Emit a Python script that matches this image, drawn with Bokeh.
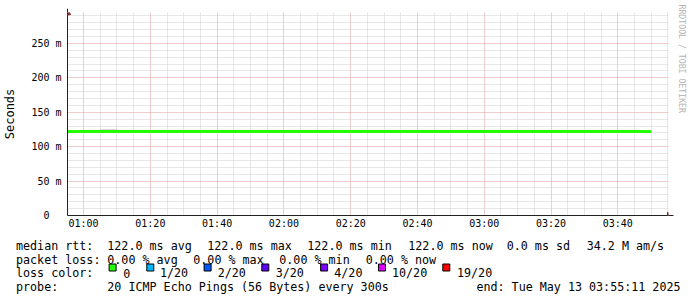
import pandas as pd
from bokeh.plotting import figure
from bokeh.layouts import column
from bokeh.models import (Range1d, FixedTicker, DatetimeTickFormatter, Arrow, NormalHead, Title)
from bokeh.core.properties import value
from bokeh.embed import file_html
from bokeh.resources import INLINE

# ---------------- data ----------------
DAY = "2025-05-13"
range_start = "00:55:11"
range_end = "03:55:11"

sample_times = ["00:55", "01:00", "01:05", "01:10", "01:15", "01:20", "01:25", "01:30", "01:35",
                "01:40", "01:45", "01:50", "01:55", "02:00", "02:05", "02:10", "02:15", "02:20",
                "02:25", "02:30", "02:35", "02:40", "02:45", "02:50", "02:55", "03:00", "03:05",
                "03:10", "03:15", "03:20", "03:25", "03:30", "03:35", "03:40", "03:45", "03:50"]
median_rtt_ms = [122.0, 122.0, 122.0, 122.0, 122.0, 122.0, 122.0, 122.0, 122.0,
                 122.0, 122.0, 122.0, 122.0, 122.0, 122.0, 122.0, 122.0, 122.0,
                 122.0, 122.0, 122.0, 122.0, 122.0, 122.0, 122.0, 122.0, 122.0,
                 122.0, 122.0, 122.0, 122.0, 122.0, 122.0, 122.0, 122.0, 122.0]
smoke_max_ms = [122.0, 122.0, 122.0, 124.5, 122.0, 122.0, 122.0, 122.0, 122.0,
                122.0, 122.0, 122.0, 122.0, 122.0, 122.0, 122.0, 122.0, 122.0,
                122.0, 122.0, 122.0, 122.0, 122.0, 122.0, 122.0, 122.0, 122.0,
                122.0, 122.0, 122.0, 122.0, 122.0, 122.0, 122.0, 122.0, 122.0]

x_tick_labels = ["01:00", "01:20", "01:40", "02:00", "02:20", "02:40", "03:00", "03:20", "03:40"]
y_tick_values = [0, 50, 100, 150, 200, 250]
y_tick_labels = ["0\u00a0\u00a0", "50 m", "100 m", "150 m", "200 m", "250 m"]
y_max = 295

rtt_stat_names = ["avg", "max", "min", "now"]
rtt_stat_values = [122.0, 122.0, 122.0, 122.0]
rtt_sd_ms = 0.0
am_per_s = "34.2 M"
loss_stat_names = ["avg", "max", "min", "now"]
loss_stat_values = [0.00, 0.00, 0.00, 0.00]
loss_labels = ["0", "1/20", "2/20", "3/20", "4/20", "10/20", "19/20"]
loss_colors = ["#26ff00", "#00b8ff", "#0059ff", "#5e00ff", "#7e00ff", "#dd00ff", "#ff0000"]
probe_text = "20 ICMP Echo Pings (56 Bytes) every 300s"
end_text = "end: Tue May 13 03:55:11 2025"
watermark = "RRDTOOL / TOBI OETIKER"

# ---------------- helpers ----------------
def ts(hm):
    return pd.Timestamp(f"{DAY} {hm}")

def ms(t):
    return t.value / 1e6

times = [ts(t) for t in sample_times]
x0, x1 = ts(range_start), ts(range_end)

MONO = "DejaVu Sans Mono"
MGRID = "#e49a9a"
GRID = "#cfcfcf"
ARROW = "#801f1f"
AXIS = "#222222"

# ---------------- main chart ----------------
p = figure(width=697, height=232, x_axis_type="datetime",
           x_range=Range1d(x0, x1), y_range=Range1d(0, y_max),
           toolbar_location=None, output_backend="svg",
           min_border_left=67, min_border_right=29, min_border_top=12, min_border_bottom=17)
p.background_fill_color = "white"
p.border_fill_color = "white"
p.outline_line_color = None
try:
    p.frame_align = False
except Exception:
    pass

major_x = [ms(ts(t)) for t in x_tick_labels]
minor_x = [ms(t) for t in pd.date_range(ts("00:55"), ts("03:55"), freq="5min") if ms(t) not in major_x]
xt = FixedTicker(ticks=major_x, minor_ticks=minor_x)
p.xaxis.ticker = xt
p.xgrid.ticker = xt
p.xaxis.formatter = DatetimeTickFormatter(minutes="%H:%M", hourmin="%H:%M", hours="%H:%M",
                                          minsec="%H:%M", seconds="%H:%M")
minor_y = [v for v in range(10, 300, 10) if v not in y_tick_values]
yt = FixedTicker(ticks=y_tick_values, minor_ticks=minor_y)
p.yaxis.ticker = yt
p.ygrid.ticker = yt
p.yaxis.major_label_overrides = {v: l for v, l in zip(y_tick_values, y_tick_labels)}

for g in (p.xgrid, p.ygrid):
    g.grid_line_color = MGRID
    g.grid_line_dash = "1 1"
    g.grid_line_width = 1
    g.minor_grid_line_color = GRID
    g.minor_grid_line_dash = "1 1"
    g.minor_grid_line_width = 1

for ax in (p.xaxis, p.yaxis):
    ax.axis_line_color = AXIS
    ax.axis_line_width = 1
    ax.major_tick_out = 0
    ax.major_tick_in = 0
    ax.minor_tick_out = 0
    ax.minor_tick_in = 0
    ax.major_label_text_font = MONO
    ax.major_label_text_font_size = "10px"
    ax.major_label_text_color = "black"
p.xaxis.major_label_standoff = 2
p.yaxis.major_label_standoff = 6
p.yaxis.axis_label = "Seconds"
p.yaxis.axis_label_text_font = MONO
p.yaxis.axis_label_text_font_size = "12px"
p.yaxis.axis_label_text_font_style = "normal"
p.yaxis.axis_label_text_color = "black"
p.yaxis.axis_label_standoff = 11

p.step(times, smoke_max_ms, mode="before", line_color="#c4c4c4", line_width=1)
p.step(times, median_rtt_ms, mode="before", line_color=loss_colors[0], line_width=3)

# axis arrows
p.add_layout(Arrow(end=NormalHead(size=6, fill_color=ARROW, line_color=ARROW, line_width=1),
                   x_start=ms(x0), y_start=y_max, x_end=ms(x0), y_end=y_max + 5.5,
                   line_color=AXIS, line_width=1))
p.add_layout(Arrow(end=NormalHead(size=6, fill_color=ARROW, line_color=ARROW, line_width=1),
                   x_start=ms(x1), y_start=0, x_end=ms(x1) + 1.5 * 60000, y_end=0,
                   line_color=AXIS, line_width=1))

# vertical watermark on the right side
p.add_layout(Title(text=watermark, align="left", text_font=MONO, text_font_size="8.2px",
                   text_font_style="normal", text_color="#b4b4b4", standoff=17, offset=-8),
             "right")

# ---------------- legend area ----------------
q = figure(width=697, height=65, x_range=Range1d(0, 697), y_range=Range1d(65, 0),
           toolbar_location=None, output_backend="svg", min_border=0,
           x_axis_location=None, y_axis_location=None)
try:
    q.frame_align = False
except Exception:
    pass
q.grid.visible = False
q.outline_line_color = None
q.background_fill_color = "white"
q.border_fill_color = "white"

row_y = [13.3, 27.0, 40.7, 54.4]
FS = "11.7px"

row1 = ["median rtt:"] + [f"{v:.1f} ms {n}" for v, n in zip(rtt_stat_values, rtt_stat_names)] + \
       [f"{rtt_sd_ms:.1f} ms sd", f"{am_per_s} am/s"]
row1_x = [15.5, 106.8, 206.8, 306.8, 407.8, 506.2, 586.2]
row2 = ["packet loss:"] + [f"{v:.2f} % {n}" for v, n in zip(loss_stat_values, loss_stat_names)]
row2_x = [15.5, 106.8, 192.8, 278.8, 365.2]
row3_x = [15.5]
sq_x = [112.1, 149.8, 207.1, 264.8, 323.6, 381.5, 445.8]
lab_x = [122.8, 159.5, 217.2, 275.2, 333.8, 391.5, 456.5]
row4 = ["probe:", probe_text]
row4_x = [15.5, 106.8]

common = dict(text_font=value(MONO), text_font_size=FS, text_baseline="alphabetic", text_color="black")
q.text(x=row1_x, y=[row_y[0]] * len(row1), text=row1, text_align="left", **common)
q.text(x=row2_x, y=[row_y[1]] * len(row2), text=row2, text_align="left", **common)
q.text(x=row3_x, y=[row_y[2]], text=["loss color:"], text_align="left", **common)
q.scatter(x=sq_x, y=[row_y[2] - 5.7] * len(sq_x), marker="square", size=7,
          fill_color=loss_colors, line_color="black", line_width=1)
q.text(x=lab_x, y=[row_y[2]] * len(loss_labels), text=loss_labels, text_align="left", **common)
q.text(x=row4_x, y=[row_y[3]] * len(row4), text=row4, text_align="left", **common)
q.text(x=[680], y=[row_y[3]], text=[end_text], text_align="right", **common)

layout = column(p, q, spacing=0)
open("out.html", "w").write(file_html(layout, INLINE))
